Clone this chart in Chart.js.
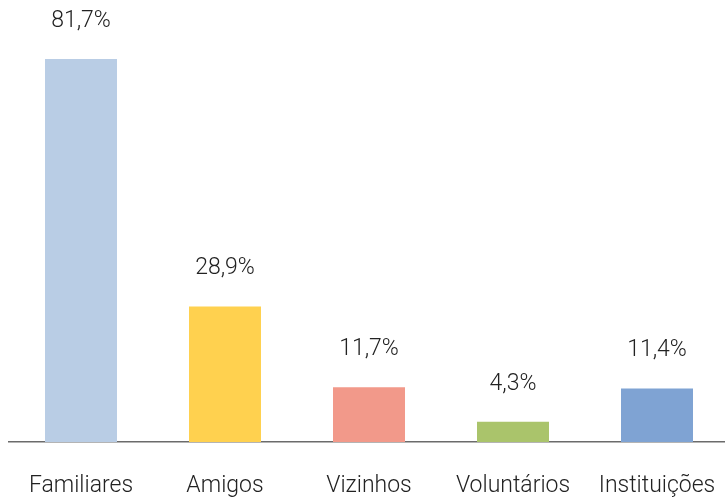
<!DOCTYPE html>
<html lang="pt">
<head>
    <meta charset="UTF-8">
    <title>Apoio recebido</title>
    <script src="https://cdn.jsdelivr.net/npm/chart.js"></script>
    <style>
        body {
            margin: 0;
            background: #fff;
            overflow: hidden;
        }
        .wrap {
            width: 725px;
            height: 499px;
            overflow: hidden;
        }
    </style>
</head>
<body>

<div class="wrap">
    <canvas id="barChart" width="740" height="499"></canvas>
</div>

<script>
    // dados
    const categories = ['Familiares', 'Amigos', 'Vizinhos', 'Voluntários', 'Instituições'];
    const values = [81.7, 28.9, 11.7, 4.3, 11.4];
    const barColors = ['#b9cde5', '#ffd14f', '#f2998a', '#aac46b', '#7fa3d3'];

    const fontFamily = 'Roboto, "Liberation Sans", Arial, sans-serif';

    // rótulos de valor em cima das barras
    const valueLabels = {
        id: 'valueLabels',
        afterDatasetsDraw(chart) {
            const ctx = chart.ctx;
            const meta = chart.getDatasetMeta(0);
            ctx.save();
            ctx.font = '300 23px ' + fontFamily;
            ctx.fillStyle = '#222';
            ctx.textAlign = 'center';
            ctx.textBaseline = 'middle';
            meta.data.forEach((bar, i) => {
                const txt = values[i].toFixed(1).replace('.', ',') + '%';
                ctx.fillText(txt, bar.x, bar.y - 38);
            });
            ctx.restore();
        }
    };

    new Chart(document.getElementById('barChart'), {
        type: 'bar',
        data: {
            labels: categories,
            datasets: [{
                data: values,
                backgroundColor: barColors,
                barPercentage: 0.5,
                categoryPercentage: 1.0
            }]
        },
        options: {
            responsive: false,
            animation: false,
            layout: {
                padding: { left: 9, right: 11, top: 20, bottom: 0 }
            },
            plugins: {
                legend: { display: false },
                tooltip: { enabled: false }
            },
            scales: {
                x: {
                    grid: { display: false },
                    border: { color: '#6b6b6b', width: 1.5 },
                    ticks: {
                        color: '#222',
                        padding: 22,
                        autoSkip: false,
                        maxRotation: 0,
                        font: { family: fontFamily, size: 23, weight: 300 }
                    },
                    afterFit: s => { s.height = 57; }
                },
                y: {
                    display: false,
                    min: 0,
                    max: 90
                }
            }
        },
        plugins: [valueLabels]
    });
</script>

</body>
</html>
